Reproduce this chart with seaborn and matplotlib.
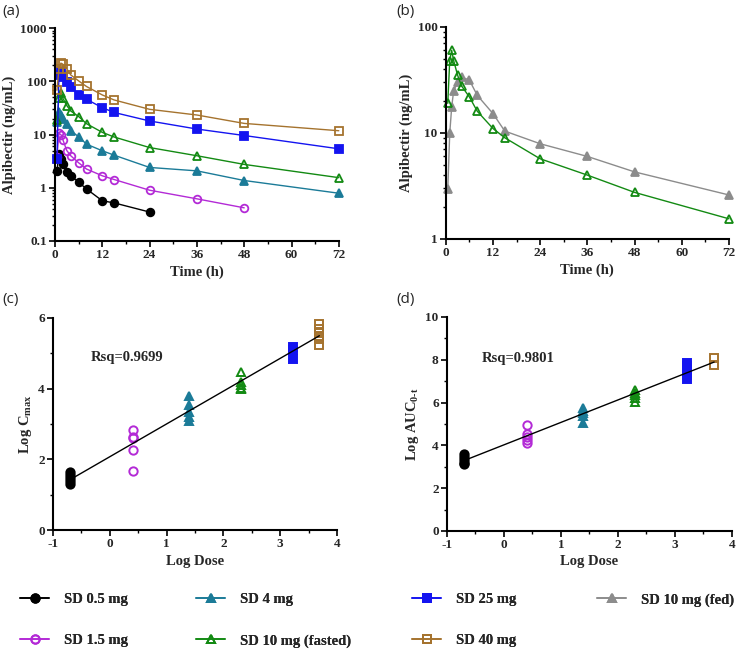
import numpy as np
import matplotlib.pyplot as plt
import seaborn as sns
from matplotlib.lines import Line2D
from matplotlib.ticker import MultipleLocator, FuncFormatter, LogLocator, NullFormatter

sns.set_theme(style="ticks")
plt.rcParams['font.family'] = ['Liberation Serif', 'DejaVu Serif']
plt.rcParams['font.weight'] = 'bold'
plt.rcParams['axes.labelweight'] = 'bold'
plt.rcParams['axes.unicode_minus'] = False
plt.rcParams['mathtext.fontset'] = 'custom'
plt.rcParams['mathtext.rm'] = 'Liberation Serif:bold'
plt.rcParams['mathtext.bf'] = 'Liberation Serif:bold'

# ---- concentration-time data (ng/mL) ----
t_24 = [0.5, 1, 1.5, 2, 3, 4, 6, 8, 12, 15, 24]
t_48 = [0.5, 1, 1.5, 2, 3, 4, 6, 8, 12, 15, 24, 36, 48]
t_72 = [0.5, 1, 1.5, 2, 3, 4, 6, 8, 12, 15, 24, 36, 48, 72]

c_05 = [2.05, 4.3, 3.5, 2.8, 1.95, 1.7, 1.27, 0.95, 0.57, 0.52, 0.35]
c_15 = [3.8, 10.5, 10.0, 8.0, 5.0, 4.0, 2.95, 2.25, 1.68, 1.43, 0.90, 0.62, 0.42]
c_4 = [17, 27, 23, 20, 15.8, 11.8, 9.1, 6.6, 4.96, 4.1, 2.41, 2.08, 1.37, 0.79]
c_10 = [19, 48, 60, 48, 35, 27.7, 21.8, 16, 11, 9.0, 5.7, 4.0, 2.75, 1.55]
c_25 = [3.5, 130, 150, 120, 99, 77, 55, 46, 32, 26, 18, 12.7, 9.6, 5.4]
c_40 = [68, 170, 220, 210, 171, 132, 102, 80, 55.5, 44.7, 29.8, 23.3, 16.2, 11.8]
c_10fed = [2.94, 9.9, 17.6, 25, 30, 33.7, 31.4, 22.6, 15.2, 10.4, 7.9, 6.0, 4.29, 2.6]

# ---- dose proportionality (natural log) ----
ln_dose = [-0.693, 0.405, 1.386, 2.303, 3.219, 3.689]
ln_cmax = [
    [1.30, 1.38, 1.47, 1.55, 1.65],
    [1.66, 2.25, 2.60, 2.63, 2.84],
    [3.08, 3.20, 3.35, 3.55, 3.80],
    [3.98, 4.03, 4.10, 4.18, 4.48],
    [4.84, 5.10, 5.18],
    [5.23, 5.40, 5.50, 5.58, 5.68, 5.82],
]
ln_auc = [
    [3.12, 3.20, 3.30, 3.45, 3.62],
    [4.10, 4.25, 4.40, 4.55, 4.97],
    [5.05, 5.35, 5.50, 5.60, 5.75],
    [6.05, 6.20, 6.35, 6.45, 6.58],
    [7.10, 7.30, 7.50, 7.70, 7.85],
    [7.75, 8.10],
]
rsq_cmax = "Rsq=0.9699"
rsq_auc = "Rsq=0.9801"

labels = ["SD 0.5 mg", "SD 1.5 mg", "SD 4 mg", "SD 10 mg (fasted)",
          "SD 25 mg", "SD 40 mg", "SD 10 mg (fed)"]
colors = ["#000000", "#b32ad6", "#1b7b98", "#138a13", "#1414f0", "#a5732e", "#8c8c8c"]
markers = ["o", "o", "^", "^", "s", "s", "^"]
filled = [True, False, True, False, True, False, True]

fig = plt.figure(figsize=(7.43, 6.54), dpi=100)
ax_a = fig.add_axes([0.074, 0.6315, 0.382, 0.3255])
ax_b = fig.add_axes([0.600, 0.6346, 0.381, 0.3244])
ax_c = fig.add_axes([0.0713, 0.1896, 0.3823, 0.3242])
ax_d = fig.add_axes([0.6016, 0.1881, 0.3834, 0.3272])


def style(ax):
    sns.despine(ax=ax)
    for s in ["left", "bottom"]:
        ax.spines[s].set_linewidth(1.5)
        ax.spines[s].set_color("black")
    ax.tick_params(which="major", direction="out", length=4, width=1.2,
                   labelsize=9.5, color="black", pad=2)
    ax.tick_params(which="minor", direction="out", length=2.5, width=1, color="black")
    ax.grid(False)
    for lab in ax.get_xticklabels() + ax.get_yticklabels():
        lab.set_fontweight("bold")


def pk_line(ax, t, c, i):
    fc = colors[i] if filled[i] else "none"
    sns.lineplot(x=t, y=c, ax=ax, color=colors[i], marker=markers[i],
                 markersize=5.5 if markers[i] != "^" else 6,
                 markerfacecolor=fc, markeredgecolor=colors[i],
                 markeredgewidth=1.3, linewidth=1, clip_on=False)


# (a)
series_a = [(t_24, c_05, 0), (t_48, c_15, 1), (t_72, c_4, 2), (t_72, c_10, 3),
            (t_72, c_25, 4), (t_72, c_40, 5)]
for t, c, i in series_a:
    pk_line(ax_a, t, c, i)
ax_a.set_yscale("log")
ax_a.set_ylim(0.1, 1000)
ax_a.set_xlim(0, 72)

# (b)
pk_line(ax_b, t_72, c_10fed, 6)
pk_line(ax_b, t_72, c_10, 3)
ax_b.set_yscale("log")
ax_b.set_ylim(1, 100)
ax_b.set_xlim(0, 72)

for ax in (ax_a, ax_b):
    ax.xaxis.set_major_locator(MultipleLocator(12))
    ax.xaxis.set_minor_locator(MultipleLocator(6))
    ax.yaxis.set_major_locator(LogLocator(base=10))
    ax.yaxis.set_minor_locator(LogLocator(base=10, subs=np.arange(2, 10)))
    ax.yaxis.set_major_formatter(FuncFormatter(lambda v, p: f"{v:g}"))
    ax.yaxis.set_minor_formatter(NullFormatter())
    ax.set_xlabel("Time (h)", fontsize=10.5, fontweight="bold", labelpad=3)
    ax.set_ylabel("Alpibectir (ng/mL)", fontsize=10.5, fontweight="bold", labelpad=3)
    style(ax)


# (c), (d)
def dose_panel(ax, vals, rsq, ylab, ymax, txt_xy):
    xs_all, ys_all = [], []
    for i, (d, ys) in enumerate(zip(ln_dose, vals)):
        fc = colors[i] if filled[i] else "none"
        ax.plot([d] * len(ys), ys, linestyle="none", marker=markers[i],
                markersize=6, markerfacecolor=fc, markeredgecolor=colors[i],
                markeredgewidth=1.4, clip_on=False, zorder=3)
        xs_all += [d] * len(ys)
        ys_all += ys
    sns.regplot(x=np.array(xs_all), y=np.array(ys_all), ax=ax, scatter=False,
                ci=None, color="black", line_kws={"linewidth": 1, "zorder": 4})
    ax.set_xlim(-1, 4)
    ax.set_ylim(0, ymax)
    ax.xaxis.set_major_locator(MultipleLocator(1))
    ax.xaxis.set_minor_locator(MultipleLocator(0.5))
    ax.yaxis.set_major_locator(MultipleLocator(2))
    ax.yaxis.set_minor_locator(MultipleLocator(1))
    ax.set_xlabel("Log Dose", fontsize=10.5, fontweight="bold", labelpad=3)
    ax.set_ylabel(ylab, fontsize=10.5, fontweight="bold", labelpad=3)
    ax.text(txt_xy[0], txt_xy[1], rsq, fontsize=10.5, fontweight="bold",
            ha="left", va="center")
    style(ax)


dose_panel(ax_c, ln_cmax, rsq_cmax, r"Log C$_{\rm max}$", 6, (-0.34, 4.87))
dose_panel(ax_d, ln_auc, rsq_auc, r"Log AUC$_{\rm 0\text{-}t}$", 10, (-0.39, 8.08))

# panel letters
for s, x, y in [("(a)", 0.003, 0.982), ("(b)", 0.534, 0.982),
                ("(c)", 0.003, 0.542), ("(d)", 0.534, 0.542)]:
    fig.text(x, y, s, fontsize=11, fontfamily="Open Sans", fontweight="normal",
             va="center", ha="left")

# legend in four columns
handles = []
for i in range(7):
    fc = colors[i] if filled[i] else "none"
    handles.append(Line2D([], [], color=colors[i], marker=markers[i], markersize=6,
                          markerfacecolor=fc, markeredgecolor=colors[i],
                          markeredgewidth=1.4, linewidth=1.2, label=labels[i]))
cols = [([0, 1], 20), ([2, 3], 196), ([4, 5], 412), ([6], 597)]
for idx, xpx in cols:
    leg = fig.legend(handles=[handles[k] for k in idx], loc="upper left",
                     bbox_to_anchor=(xpx / 743, 0.093), frameon=False,
                     prop={"family": "Liberation Serif", "weight": "bold", "size": 10.5},
                     handlelength=2.0, handletextpad=1.0, labelspacing=1.9,
                     borderpad=0, borderaxespad=0)
    fig.add_artist(leg)

fig.savefig("out.png", dpi=100)
